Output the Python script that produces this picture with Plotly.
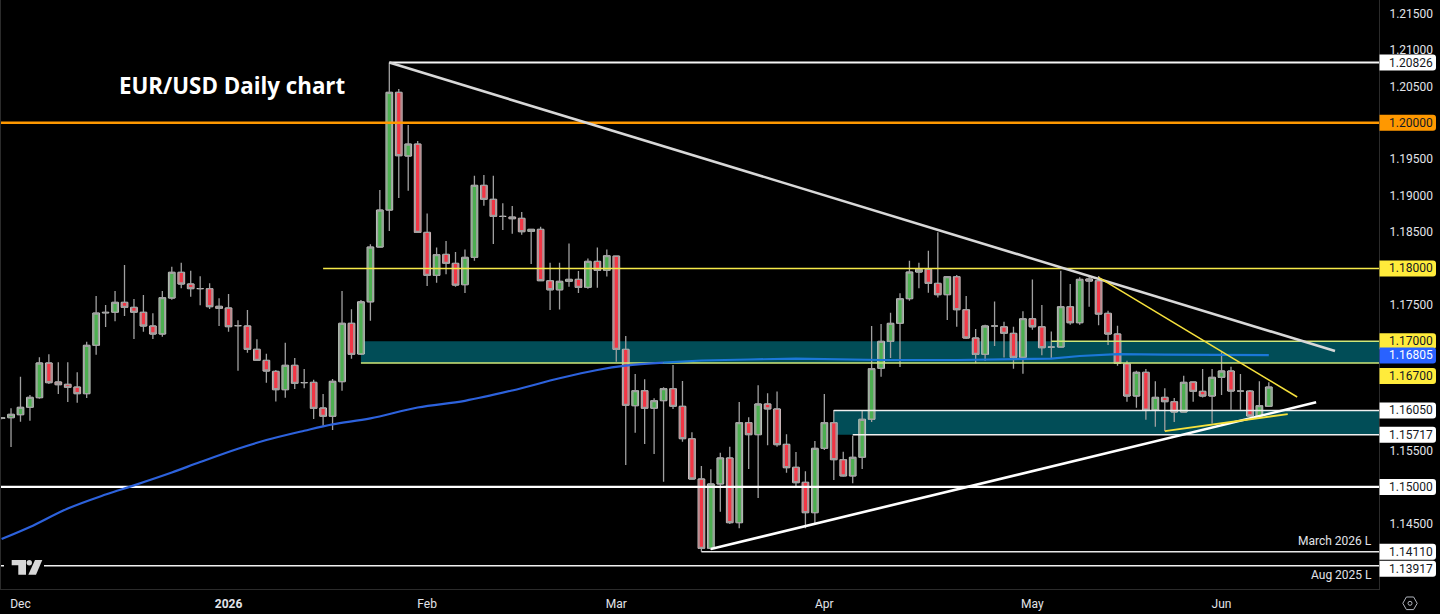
import plotly.graph_objects as go

WIDTH = 1440
HEIGHT = 614
M_L, M_R, M_T, M_B = 1, 61, 0, 25
Y_MIN = 1.13598
Y_MAX = 1.21685

# Bars are numbered by trading day, bar 1 is 1 Dec 2025
first_bar = -1
opens = [
    1.15940, 1.15950, 1.15991, 1.16092, 1.16225, 1.16701, 1.16440, 1.16408, 1.16371, 1.16280,
    1.16943, 1.17390, 1.17397, 1.17534, 1.17465, 1.17397, 1.17209, 1.17099, 1.17593, 1.17946,
    1.17786, 1.17722, 1.17722, 1.17479, 1.17456, 1.17213, 1.17209, 1.16889, 1.16737, 1.16586,
    1.16335, 1.16669, 1.16431, 1.16435, 1.16083, 1.15969, 1.16445, 1.17246, 1.16824, 1.17542,
    1.18293, 1.18801, 1.20417, 1.19543, 1.19707, 1.18494, 1.17904, 1.18192, 1.18069, 1.17776,
    1.18151, 1.19140, 1.18948, 1.18714, 1.18705, 1.18687, 1.18508, 1.18536, 1.17831, 1.17707,
    1.17822, 1.17849, 1.17739, 1.18096, 1.17973, 1.18169, 1.16888, 1.16115, 1.16321, 1.16079,
    1.16184, 1.16349, 1.16106, 1.15662, 1.15108, 1.14156, 1.15040, 1.15397, 1.14509, 1.15882,
    1.15717, 1.16138, 1.16070, 1.15584, 1.15269, 1.15063, 1.14646, 1.15529, 1.15882, 1.15374,
    1.15150, 1.15406, 1.15928, 1.16627, 1.16998, 1.17245, 1.17584, 1.17950, 1.17987, 1.17794,
    1.17639, 1.17886, 1.17433, 1.17044, 1.16819, 1.17209, 1.17199, 1.17108, 1.16778, 1.17309,
    1.17199, 1.16920, 1.16920, 1.17474, 1.17254, 1.17854, 1.17831, 1.17383, 1.17099, 1.16692,
    1.16248, 1.16573, 1.16055, 1.16229, 1.16170, 1.16028, 1.16440, 1.16312, 1.16248, 1.16504,
    1.16591, 1.16316, 1.16316, 1.15973, 1.16106,
]
highs = [
    1.15960, 1.16078, 1.16513, 1.16261, 1.16779, 1.16820, 1.16710, 1.16710, 1.16573, 1.16994,
    1.17621, 1.17497, 1.17689, 1.18046, 1.17580, 1.17635, 1.17383, 1.17689, 1.18024, 1.18079,
    1.17969, 1.17891, 1.17795, 1.17589, 1.17648, 1.17287, 1.17429, 1.17026, 1.16829, 1.16605,
    1.16980, 1.16770, 1.16618, 1.16472, 1.16275, 1.16481, 1.17689, 1.17438, 1.17565, 1.18330,
    1.19076, 1.20826, 1.20462, 1.19968, 1.19748, 1.18755, 1.18288, 1.18375, 1.18224, 1.18261,
    1.19272, 1.19282, 1.19272, 1.18893, 1.18856, 1.18774, 1.18545, 1.18572, 1.18078, 1.18078,
    1.18343, 1.17963, 1.18137, 1.18288, 1.18261, 1.18169, 1.17071, 1.16550, 1.16477, 1.16216,
    1.16367, 1.16674, 1.16454, 1.15749, 1.15287, 1.15241, 1.15470, 1.15552, 1.16166, 1.15955,
    1.16395, 1.16285, 1.16308, 1.15722, 1.15479, 1.15214, 1.15630, 1.16276, 1.16056, 1.15484,
    1.15703, 1.16047, 1.17209, 1.17236, 1.17392, 1.17657, 1.18106, 1.18078, 1.18243, 1.18495,
    1.17895, 1.17909, 1.17620, 1.17167, 1.17227, 1.17547, 1.17268, 1.17199, 1.17410, 1.17849,
    1.17497, 1.17135, 1.17968, 1.17785, 1.17877, 1.17886, 1.17895, 1.17419, 1.17213, 1.16733,
    1.16595, 1.16618, 1.16449, 1.16353, 1.16220, 1.16527, 1.16449, 1.16618, 1.16618, 1.16847,
    1.16650, 1.16550, 1.16330, 1.16449, 1.16435,
]
lows = [
    1.15930, 1.15547, 1.15895, 1.15909, 1.16211, 1.16413, 1.16275, 1.16165, 1.16156, 1.16220,
    1.16815, 1.17195, 1.17273, 1.17346, 1.17030, 1.17131, 1.17030, 1.17062, 1.17570, 1.17726,
    1.17612, 1.17493, 1.17442, 1.17209, 1.17131, 1.16596, 1.16843, 1.16728, 1.16431, 1.16174,
    1.16225, 1.16344, 1.16353, 1.15932, 1.15840, 1.15781, 1.16321, 1.16760, 1.16810, 1.17282,
    1.18293, 1.18513, 1.18966, 1.19067, 1.18494, 1.17758, 1.17803, 1.17918, 1.17748, 1.17661,
    1.18105, 1.18861, 1.18334, 1.18526, 1.18476, 1.18462, 1.18060, 1.17831, 1.17428, 1.17437,
    1.17748, 1.17661, 1.17721, 1.17735, 1.17890, 1.16718, 1.15301, 1.15745, 1.15589, 1.15452,
    1.15072, 1.16070, 1.15621, 1.15108, 1.14111, 1.14133, 1.14660, 1.14491, 1.14431, 1.15246,
    1.14848, 1.15571, 1.15552, 1.15195, 1.15012, 1.14431, 1.14500, 1.15507, 1.15095, 1.15140,
    1.15049, 1.15246, 1.15891, 1.16513, 1.16769, 1.16646, 1.17556, 1.17726, 1.17666, 1.17602,
    1.17291, 1.17199, 1.17030, 1.16696, 1.16728, 1.16934, 1.16778, 1.16623, 1.16554, 1.17158,
    1.16806, 1.16765, 1.16920, 1.17227, 1.17227, 1.17474, 1.17218, 1.16948, 1.16664, 1.16170,
    1.16087, 1.15923, 1.15826, 1.15767, 1.15891, 1.16028, 1.16170, 1.16229, 1.15872, 1.16261,
    1.16060, 1.16060, 1.15964, 1.15964, 1.16106,
]
closes = [
    1.15950, 1.15996, 1.16092, 1.16229, 1.16701, 1.16431, 1.16403, 1.16367, 1.16280, 1.16943,
    1.17387, 1.17397, 1.17534, 1.17465, 1.17397, 1.17209, 1.17099, 1.17598, 1.17946, 1.17786,
    1.17722, 1.17722, 1.17474, 1.17451, 1.17200, 1.17213, 1.16889, 1.16737, 1.16591, 1.16335,
    1.16669, 1.16422, 1.16431, 1.16078, 1.15969, 1.16449, 1.17246, 1.16820, 1.17542, 1.18293,
    1.18801, 1.20417, 1.19547, 1.19707, 1.18494, 1.17904, 1.18188, 1.18069, 1.17771, 1.18151,
    1.19140, 1.18948, 1.18714, 1.18714, 1.18682, 1.18504, 1.18536, 1.17831, 1.17707, 1.17822,
    1.17849, 1.17739, 1.18096, 1.17973, 1.18174, 1.16888, 1.16120, 1.16321, 1.16079, 1.16184,
    1.16349, 1.16106, 1.15662, 1.15108, 1.14156, 1.15040, 1.15397, 1.14509, 1.15882, 1.15717,
    1.16138, 1.16070, 1.15580, 1.15264, 1.15058, 1.14646, 1.15529, 1.15882, 1.15374, 1.15150,
    1.15406, 1.15928, 1.16623, 1.16998, 1.17245, 1.17584, 1.17950, 1.17987, 1.17794, 1.17639,
    1.17886, 1.17433, 1.17044, 1.16819, 1.17209, 1.17209, 1.17108, 1.16778, 1.17309, 1.17199,
    1.16911, 1.16920, 1.17474, 1.17254, 1.17849, 1.17826, 1.17373, 1.17099, 1.16696, 1.16248,
    1.16573, 1.16055, 1.16229, 1.16170, 1.16028, 1.16435, 1.16312, 1.16248, 1.16504, 1.16591,
    1.16316, 1.16316, 1.15973, 1.16115, 1.16371,
]
bars = list(range(first_bar, first_bar + len(closes)))

ma_bars = [-1, 2, 6, 10, 13, 17, 20, 24, 27, 31, 34, 38, 43, 48, 53, 58, 62, 65, 69]
ma_values = [
    1.14284, 1.14449, 1.14703, 1.14895, 1.15021, 1.15197, 1.15341, 1.15524, 1.15643, 1.15771,
    1.15859, 1.15940, 1.16090, 1.16182, 1.16324, 1.16491, 1.16605, 1.16664, 1.16705,
]
# the part over the teal zone looks lighter
ma_zone_bars = [69, 73, 78, 83, 92, 100, 110, 113, 117, 122, 133]
ma_zone_values = [
    1.16705, 1.16735, 1.16749, 1.16762, 1.16742, 1.16742, 1.16762, 1.16797, 1.16824, 1.16815, 1.16810,
]

# Axis labels
month_bars = [1, 23, 44, 64, 86, 108, 128]
month_labels = ["Dec", "<b>2026</b>", "Feb", "Mar", "Apr", "May", "Jun"]
price_ticks = [1.215, 1.21, 1.205, 1.195, 1.19, 1.185, 1.175, 1.155, 1.145]

# Horizontal levels: price, first bar, colour, line width
x_left = -1.06
x_right = 144.65
level_prices = [1.20826, 1.2, 1.18, 1.17, 1.167, 1.1605, 1.15717, 1.15, 1.1411, 1.13917]
level_starts = [40, x_left, 33, 110, 37, 87, 89, x_left, 73, x_left]
level_colors = ["#f5f5f5", "#ff9800", "#f6ea4a", "#cfe87a", "#cfe87a", "#f0f0f0", "#f0f0f0", "#ffffff", "#e8e8e8", "#f0f0f0"]
level_widths = [2, 2.5, 1.5, 1.5, 1.5, 1.5, 1.5, 2.2, 1.5, 1.5]

# Shaded zones: bottom, top, first bar
zone_bottoms = [1.167, 1.15717]
zone_tops = [1.17, 1.1605]
zone_starts = [37, 87]

# Trend lines: bars, prices, colour, width
trend_lines = [
    ([40, 140], [1.20826, 1.16865], "#d8d8d8", 2.6),
    ([74, 138], [1.14147, 1.16161], "#ffffff", 2.6),
    ([115, 136], [1.17877, 1.16234], "#f6e13c", 1.5),
    ([122, 135], [1.15767, 1.16000], "#f6e13c", 1.8),
]

# Price tags on the right hand axis, the shift is how far a tag was pushed off its level
tag_prices = [1.20826, 1.2, 1.18, 1.17, 1.16805, 1.167, 1.1605, 1.15717, 1.15, 1.1411, 1.13917]
tag_fills = ["#ffffff", "#ff9800", "#ffeb3b", "#ffeb3b", "#2962ff", "#ffeb3b", "#ffffff", "#ffffff", "#ffffff", "#ffffff", "#ffffff"]
tag_texts = ["#131722", "#131722", "#131722", "#131722", "#ffffff", "#131722", "#131722", "#131722", "#131722", "#131722", "#131722"]
tag_shifts = [0, 0, 0, 0, 0, 13, 0, 0, 0, 0, 3]

label_color = "#e2e4ea"


def px_x(value):
    return (value - M_L) / (WIDTH - M_L - M_R)


def px_y(value):
    return 1 - (value - M_T) / (HEIGHT - M_T - M_B)


def price_px(price):
    return M_T + (Y_MAX - price) / (Y_MAX - Y_MIN) * (HEIGHT - M_T - M_B)


def path(points):
    return "M" + " L".join(f"{px_x(a):.5f},{px_y(b):.5f}" for a, b in points) + " Z"


def tag_path(center):
    # square on the axis side, rounded on the right
    x0, x1 = 1379.5, 1436
    y0, y1 = center - 8, center + 8
    r = 3
    return (
        f"M{px_x(x0):.5f},{px_y(y0):.5f} L{px_x(x1 - r):.5f},{px_y(y0):.5f} "
        f"Q{px_x(x1):.5f},{px_y(y0):.5f} {px_x(x1):.5f},{px_y(y0 + r):.5f} "
        f"L{px_x(x1):.5f},{px_y(y1 - r):.5f} "
        f"Q{px_x(x1):.5f},{px_y(y1):.5f} {px_x(x1 - r):.5f},{px_y(y1):.5f} "
        f"L{px_x(x0):.5f},{px_y(y1):.5f} Z"
    )


fig = go.Figure()

# Horizontal levels
for price, start, color, width in zip(level_prices, level_starts, level_colors, level_widths):
    fig.add_trace(go.Scatter(x=[start, x_right], y=[price, price], mode="lines", line=dict(color=color, width=width)))

# Moving average
fig.add_trace(go.Scatter(x=ma_bars, y=ma_values, mode="lines", line=dict(color="#2d62dc", width=2.2, shape="spline")))
fig.add_trace(go.Scatter(x=ma_zone_bars, y=ma_zone_values, mode="lines", line=dict(color="#1b78d8", width=2.2)))

# Wicks, the bodies are drawn on top as bars so they can have a white border
fig.add_trace(
    go.Candlestick(
        x=bars,
        open=opens,
        high=highs,
        low=lows,
        close=closes,
        whiskerwidth=0,
        increasing=dict(line=dict(color="#a0a0a0", width=1.3), fillcolor="rgba(0,0,0,0)"),
        decreasing=dict(line=dict(color="#a0a0a0", width=1.3), fillcolor="rgba(0,0,0,0)"),
    )
)

# Trend lines
for line_x, line_y, color, width in trend_lines:
    fig.add_trace(go.Scatter(x=line_x, y=line_y, mode="lines", line=dict(color=color, width=width)))

# Bodies
body_colors = ["#4caf50" if c >= o else "#f23645" for o, c in zip(opens, closes)]
fig.add_trace(
    go.Bar(
        x=bars,
        y=[c - o for o, c in zip(opens, closes)],
        base=opens,
        width=0.72,
        marker=dict(color=body_colors, line=dict(color="#e6e6e6", width=0.8)),
    )
)

# Zones
for bottom, top, start in zip(zone_bottoms, zone_tops, zone_starts):
    fig.add_shape(
        type="rect", x0=start, x1=x_right, y0=bottom, y1=top,
        fillcolor="#014d57", line_width=0, layer="below",
    )

# Logo
fig.add_shape(
    type="rect", xref="paper", yref="paper",
    x0=px_x(4), x1=px_x(44), y0=px_y(578), y1=px_y(556),
    fillcolor="#000000", line_width=0,
)
logo_paths = [
    [(11.7, 560), (26, 560), (26, 574.7), (18.3, 574.7), (18.3, 565.3), (11.7, 565.3)],
    [(28.3, 574.7), (35, 560), (42.3, 560), (36, 574.7)],
]
for points in logo_paths:
    fig.add_shape(type="path", xref="paper", yref="paper", path=path(points), fillcolor="#d8d8d8", line_width=0)
fig.add_shape(
    type="circle", xref="paper", yref="paper",
    x0=px_x(26.6), x1=px_x(32), y0=px_y(565.4), y1=px_y(560),
    fillcolor="#d8d8d8", line_width=0,
)

# Settings icon
hexagon = [(1402.8, 603.3), (1406.4, 597), (1413.6, 597), (1417.2, 603.3), (1413.6, 609.6), (1406.4, 609.6)]
fig.add_shape(type="path", xref="paper", yref="paper", path=path(hexagon), line=dict(color="#b2b5be", width=1))
fig.add_shape(
    type="circle", xref="paper", yref="paper",
    x0=px_x(1408), x1=px_x(1412), y0=px_y(605.3), y1=px_y(601.3),
    line=dict(color="#b2b5be", width=1),
)

# Texts
fig.add_annotation(
    text="<b>EUR/USD Daily chart</b>", xref="paper", yref="paper",
    x=px_x(116.5), y=px_y(85), xanchor="left", yanchor="middle", showarrow=False,
    font=dict(family="Open Sans", size=22.3, color="#ffffff"),
)
fig.add_annotation(
    text="March 2026 L", xref="paper", yref="y", x=px_x(1374), y=1.1411, yshift=11,
    xanchor="right", showarrow=False, font=dict(family="Roboto", size=12, color=label_color),
)
fig.add_annotation(
    text="Aug 2025 L", xref="paper", yref="y", x=px_x(1374), y=1.13917, yshift=-9,
    xanchor="right", showarrow=False, font=dict(family="Roboto", size=12, color=label_color),
)
for price, fill, color, shift in zip(tag_prices, tag_fills, tag_texts, tag_shifts):
    fig.add_shape(
        type="path", xref="paper", yref="paper",
        path=tag_path(price_px(price) + shift), fillcolor=fill, line_width=0,
    )
    fig.add_annotation(
        text=f"{price:.5f}", xref="paper", yref="y", x=px_x(1410.5), y=price, yshift=-shift,
        xanchor="center", yanchor="middle", showarrow=False,
        font=dict(family="Roboto", size=12, color=color),
    )

fig.update_layout(
    width=WIDTH,
    height=HEIGHT,
    margin=dict(l=M_L, r=M_R, t=M_T, b=M_B),
    paper_bgcolor="#000000",
    plot_bgcolor="#000000",
    showlegend=False,
    barmode="overlay",
    hovermode=False,
    xaxis=dict(
        range=[x_left, x_right],
        tickvals=month_bars,
        ticktext=month_labels,
        showgrid=False,
        zeroline=False,
        rangeslider=dict(visible=False),
        showline=True,
        linecolor="#2b2b2b",
        linewidth=1,
        ticks="",
        ticklabelstandoff=4,
        tickfont=dict(family="Roboto", size=12, color=label_color),
    ),
    yaxis=dict(
        range=[Y_MIN, Y_MAX],
        side="right",
        tickvals=price_ticks,
        tickformat=".5f",
        showgrid=False,
        zeroline=False,
        showline=True,
        mirror=True,
        linecolor="#2b2b2b",
        linewidth=1,
        ticks="",
        ticklabelstandoff=7,
        tickfont=dict(family="Roboto", size=12, color=label_color),
    ),
)

fig.write_html(
    "out.html",
    config={"displayModeBar": False},
    post_script="document.body.style.margin='0';document.body.style.background='#000';",
)
